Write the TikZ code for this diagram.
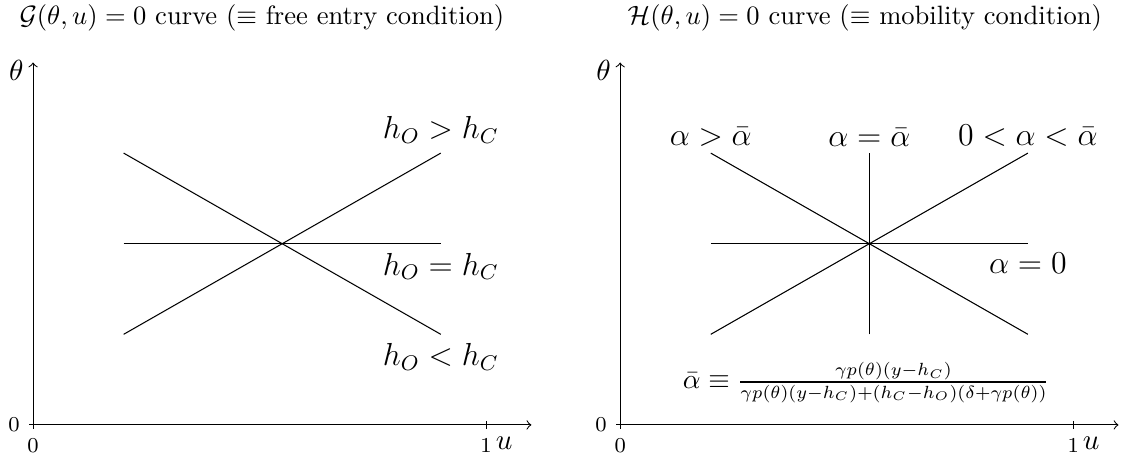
\documentclass[tikz,border=0pt]{standalone}
\usepackage{amsmath}
\usetikzlibrary{math}

\begin{document}
\begin{tikzpicture}[x=6cm,y=6cm]

\tikzmath{
\dX = 1.296;%shift of right panel
\xa = 0.2;
\xb = 0.9;
\xc = 0.55;
\ya = 0.2;
\yb = 0.6;
\yc = 0.4;
\tk = 0.009;
}

\useasboundingbox (-0.073,-0.066) rectangle (2.417,0.938);

%axes:
\foreach \s in {0,\dX}{
 \draw[->] (\s,0) -- (\s,0.8) node[left,yshift=-3pt] {\fontsize{11}{13}\selectfont$\theta$};
 \draw[->] (\s,0) -- (\s+1.1,0);
 \node at (\s+1.04,-0.04) {\fontsize{11}{13}\selectfont$u$};
 \draw (\s+\tk,0) -- (\s-\tk,0) node[left] {\footnotesize$0$};
 \draw (\s,\tk) -- (\s,-\tk) node[below] {\footnotesize$0$};
 \draw (\s+1,\tk) -- (\s+1,-\tk) node[below] {\footnotesize$1$};
 }

%left panel:
\node (titleG) at (0.505,0.898) {$\mathcal{G}(\theta,u)=0$ curve ($\equiv$ free entry condition)};
\coordinate (P) at (\xc,\yc);
\draw (\xa,\yb) -- (P) -- (\xb,\ya) node[below] {\large$h_O<h_C$};
\draw (\xa,\ya) -- (P) -- (\xb,\yb) node[above] {\large$h_O>h_C$};
\draw (\xa,\yc) -- (P) -- (\xb,\yc) node[below] {\large$h_O=h_C$};

%right panel:
\begin{scope}[shift={(\dX,0)}]
\node (titleH) at (0.54,0.898) {$\mathcal{H}(\theta,u)=0$ curve ($\equiv$ mobility condition)};
\coordinate (Q) at (\xc,\yc);
\draw (\xa,\yb) node[above,yshift=-1pt] {\large$\alpha>\bar\alpha$} -- (Q) -- (\xb,\ya);
\draw (\xa,\ya) -- (Q) -- (\xb,\yb) node[above,yshift=-1pt] {\large$0<\alpha<\bar\alpha$};
\draw (\xa,\yc) -- (Q) -- (\xb,\yc) node[below] {\large$\alpha=0$};
\draw (\xc,\ya) -- (Q) -- (\xc,\yb) node[above,yshift=-1pt] {\large$\alpha=\bar\alpha$};
\node[scale=0.95] (abar) at (0.543,0.093) {\fontsize{10.7}{13}\selectfont$\bar\alpha\equiv\frac{\gamma p(\theta)(y-h_C)}{\gamma p(\theta)(y-h_C)+(h_C-h_O)(\delta+\gamma p(\theta))}$};
\end{scope}

\end{tikzpicture}
\end{document}
